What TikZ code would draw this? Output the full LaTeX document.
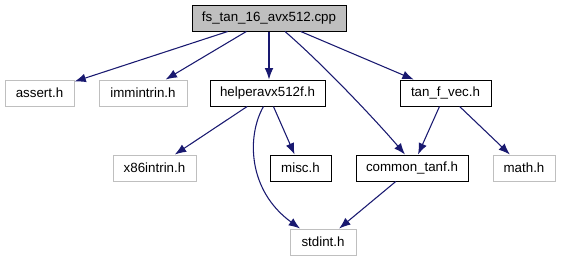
\documentclass[tikz,border=0pt]{standalone}
\usepackage{fontspec}
\setmainfont{Liberation Sans}
\usetikzlibrary{arrows.meta,calc}
\definecolor{edgeblue}{HTML}{191970}
\definecolor{extgray}{HTML}{BFBFBF}
\begin{document}
\begin{tikzpicture}[x=0.75pt,y=-0.75pt,
  font=\fontsize{10pt}{12pt}\selectfont,
  filebox/.style={draw=black,line width=0.75pt,fill=white,inner sep=0pt,
    minimum height=19.5pt,anchor=center},
  extbox/.style={filebox,draw=extgray},
  rootbox/.style={filebox,fill=extgray},
  dep/.style={draw=edgeblue,line width=0.8pt,
    -{Latex[length=8.5pt,width=6.5pt]},color=edgeblue}]
\useasboundingbox (0,0) rectangle (561,261);

% include graph nodes
\node[rootbox,minimum width=115.5pt] (root) at (269,18) {fs\_tan\_16\_avx512.cpp};
\node[extbox,minimum width=51.75pt] (assert) at (39.5,93) {assert.h};
\node[extbox,minimum width=66pt] (immintrin) at (143,93) {immintrin.h};
\node[filebox,minimum width=86.25pt] (helper) at (267.5,93) {helperavx512f.h};
\node[filebox,minimum width=68.25pt] (tanfvec) at (445.5,93) {tan\_f\_vec.h};
\node[extbox,minimum width=62.25pt] (x86) at (154.5,168) {x86intrin.h};
\node[filebox,minimum width=45.75pt] (misc) at (300.5,168) {misc.h};
\node[filebox,minimum width=84pt] (common) at (412,168) {common\_tanf.h};
\node[extbox,minimum width=46.5pt] (math) at (524,168) {math.h};
\node[extbox,minimum width=49.5pt] (stdint) at (323,242) {stdint.h};

% include edges
\draw[dep] (root) -- (assert);
\draw[dep] (root) -- (immintrin);
\draw[dep] (root.south) -- (root.south |- helper.north);
\draw[dep] ($(root.south)+(16,0)$) .. controls (325,66) and (380,125) .. ($(common.north)+(-7,0)$);
\draw[dep] (root) -- (tanfvec);
\draw[dep] (helper) -- (x86);
\draw[dep] ($(helper.south)+(-4,0)$) .. controls (247,135) and (247,190) .. ($(stdint.north)+(-23,0)$);
\draw[dep] (helper) -- (misc);
\draw[dep] (tanfvec) -- (common);
\draw[dep] (tanfvec) -- (math);
\draw[dep] (common) -- (stdint);
\end{tikzpicture}
\end{document}
